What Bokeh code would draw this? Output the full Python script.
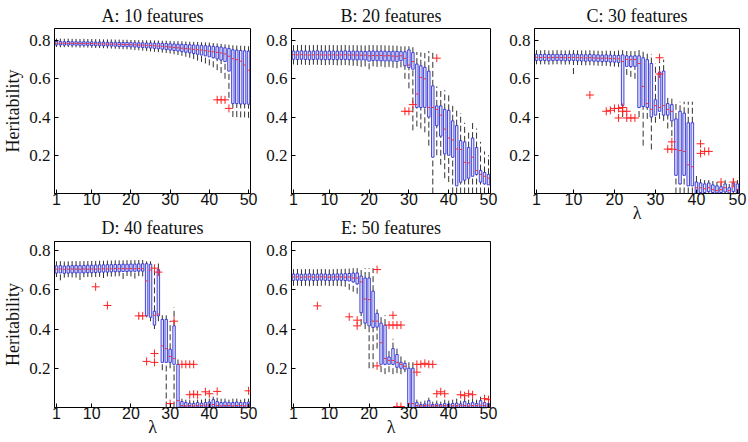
from bokeh.plotting import figure
from bokeh.layouts import row, column
from bokeh.models import ColumnDataSource, Range1d, FixedTicker
from bokeh.transform import dodge
from bokeh.embed import file_html
from bokeh.resources import INLINE

LAM = list(range(1, 51))
X_TICKS = [1, 10, 20, 30, 40, 50]
Y_TICKS = [0.2, 0.4, 0.6, 0.8]

# ---------------- Panel A: 10 features ----------------
a_med = [0.786, 0.786, 0.785, 0.786, 0.785, 0.785, 0.784, 0.785, 0.784, 0.784,
         0.783, 0.783, 0.782, 0.782, 0.781, 0.781, 0.780, 0.780, 0.779, 0.778,
         0.778, 0.777, 0.776, 0.775, 0.774, 0.773, 0.771, 0.770, 0.768, 0.766,
         0.764, 0.762, 0.760, 0.758, 0.756, 0.754, 0.752, 0.750, 0.747, 0.744,
         0.741, 0.738, 0.735, 0.730, 0.718, 0.705, 0.700, 0.692, 0.672, 0.645]
a_q1 = [0.777, 0.777, 0.776, 0.777, 0.776, 0.776, 0.775, 0.775, 0.775, 0.774,
        0.773, 0.773, 0.772, 0.772, 0.771, 0.770, 0.769, 0.769, 0.768, 0.767,
        0.766, 0.765, 0.764, 0.762, 0.761, 0.759, 0.757, 0.755, 0.753, 0.750,
        0.748, 0.745, 0.742, 0.739, 0.736, 0.732, 0.728, 0.724, 0.720, 0.715,
        0.710, 0.704, 0.698, 0.690, 0.640, 0.470, 0.470, 0.468, 0.468, 0.467]
a_q3 = [0.795, 0.795, 0.794, 0.795, 0.794, 0.794, 0.793, 0.794, 0.793, 0.793,
        0.792, 0.792, 0.792, 0.791, 0.791, 0.791, 0.790, 0.790, 0.790, 0.789,
        0.789, 0.788, 0.788, 0.787, 0.787, 0.786, 0.786, 0.785, 0.784, 0.783,
        0.782, 0.781, 0.780, 0.779, 0.778, 0.777, 0.776, 0.775, 0.773, 0.772,
        0.770, 0.768, 0.766, 0.762, 0.758, 0.752, 0.750, 0.748, 0.746, 0.745]
a_lo = [0.766, 0.765, 0.765, 0.766, 0.764, 0.765, 0.763, 0.764, 0.763, 0.762,
        0.761, 0.761, 0.760, 0.759, 0.758, 0.757, 0.756, 0.755, 0.754, 0.752,
        0.750, 0.749, 0.747, 0.745, 0.743, 0.741, 0.739, 0.737, 0.735, 0.732,
        0.728, 0.724, 0.720, 0.715, 0.710, 0.703, 0.695, 0.688, 0.680, 0.670,
        0.660, 0.645, 0.630, 0.600, 0.500, 0.400, 0.400, 0.398, 0.398, 0.396]
a_hi = [0.810, 0.810, 0.809, 0.810, 0.809, 0.809, 0.808, 0.809, 0.808, 0.808,
        0.807, 0.807, 0.806, 0.806, 0.806, 0.805, 0.805, 0.804, 0.804, 0.803,
        0.803, 0.802, 0.802, 0.801, 0.801, 0.800, 0.800, 0.799, 0.799, 0.798,
        0.797, 0.797, 0.796, 0.795, 0.794, 0.793, 0.792, 0.791, 0.790, 0.789,
        0.787, 0.785, 0.783, 0.780, 0.778, 0.775, 0.774, 0.773, 0.772, 0.770]
a_out_x = [42, 43, 44, 45]
a_out_y = [0.490, 0.490, 0.490, 0.445]

# ---------------- Panel B: 20 features ----------------
b_med = [0.726, 0.725, 0.726, 0.725, 0.724, 0.725, 0.726, 0.725, 0.724, 0.725,
         0.725, 0.724, 0.725, 0.726, 0.724, 0.725, 0.724, 0.723, 0.724, 0.720,
         0.722, 0.721, 0.722, 0.720, 0.721, 0.719, 0.718, 0.720, 0.707, 0.672,
         0.690, 0.520, 0.607, 0.600, 0.450, 0.450, 0.440, 0.410, 0.337, 0.290,
         0.280, 0.233, 0.230, 0.163, 0.160, 0.190, 0.120, 0.100, 0.090, 0.080]
b_q1 = [0.702, 0.701, 0.702, 0.701, 0.700, 0.701, 0.702, 0.700, 0.700, 0.701,
        0.700, 0.700, 0.701, 0.701, 0.700, 0.699, 0.699, 0.698, 0.698, 0.692,
        0.696, 0.695, 0.694, 0.693, 0.694, 0.692, 0.690, 0.695, 0.668, 0.659,
        0.650, 0.450, 0.450, 0.450, 0.400, 0.190, 0.355, 0.300, 0.207, 0.200,
        0.190, 0.040, 0.059, 0.070, 0.080, 0.090, 0.100, 0.060, 0.050, 0.045]
b_q3 = [0.745, 0.745, 0.746, 0.745, 0.744, 0.745, 0.746, 0.745, 0.744, 0.745,
        0.745, 0.744, 0.745, 0.746, 0.744, 0.745, 0.744, 0.744, 0.743, 0.745,
        0.745, 0.744, 0.745, 0.744, 0.743, 0.744, 0.743, 0.742, 0.741, 0.751,
        0.737, 0.677, 0.668, 0.660, 0.640, 0.563, 0.458, 0.458, 0.440, 0.435,
        0.380, 0.355, 0.276, 0.270, 0.240, 0.290, 0.240, 0.120, 0.110, 0.100]
b_lo = [0.675, 0.672, 0.674, 0.673, 0.672, 0.674, 0.673, 0.672, 0.671, 0.673,
        0.672, 0.670, 0.671, 0.672, 0.670, 0.668, 0.667, 0.662, 0.665, 0.650,
        0.665, 0.662, 0.664, 0.660, 0.662, 0.658, 0.655, 0.660, 0.600, 0.550,
        0.330, 0.350, 0.340, 0.320, 0.250, 0.000, 0.200, 0.150, 0.080, 0.060,
        0.000, 0.000, 0.000, 0.000, 0.000, 0.000, 0.000, 0.000, 0.000, 0.000]
b_hi = [0.780, 0.779, 0.781, 0.780, 0.778, 0.780, 0.781, 0.779, 0.778, 0.780,
        0.779, 0.778, 0.780, 0.781, 0.778, 0.779, 0.778, 0.777, 0.776, 0.778,
        0.777, 0.776, 0.777, 0.775, 0.776, 0.774, 0.773, 0.770, 0.770, 0.770,
        0.765, 0.740, 0.738, 0.735, 0.745, 0.740, 0.560, 0.550, 0.540, 0.520,
        0.470, 0.440, 0.420, 0.370, 0.330, 0.380, 0.340, 0.270, 0.220, 0.200]
b_out_x = [29, 30, 31, 37]
b_out_y = [0.430, 0.430, 0.465, 0.708]

# ---------------- Panel C: 30 features ----------------
c_med = [0.712, 0.711, 0.712, 0.710, 0.711, 0.712, 0.711, 0.710, 0.711, 0.712,
         0.711, 0.710, 0.709, 0.710, 0.709, 0.708, 0.707, 0.708, 0.706, 0.705,
         0.704, 0.690, 0.702, 0.700, 0.701, 0.680, 0.560, 0.470, 0.440, 0.460,
         0.450, 0.460, 0.440, 0.430, 0.230, 0.225, 0.220, 0.150, 0.140, 0.030,
         0.030, 0.025, 0.030, 0.020, 0.015, 0.020, 0.030, 0.015, 0.035, 0.020]
c_q1 = [0.696, 0.695, 0.696, 0.694, 0.695, 0.696, 0.695, 0.694, 0.695, 0.696,
        0.694, 0.693, 0.692, 0.693, 0.692, 0.691, 0.690, 0.690, 0.688, 0.687,
        0.686, 0.460, 0.665, 0.664, 0.665, 0.450, 0.455, 0.450, 0.400, 0.410,
        0.430, 0.410, 0.410, 0.380, 0.095, 0.050, 0.095, 0.040, 0.040, 0.000,
        0.005, 0.005, 0.010, 0.005, 0.003, 0.005, 0.008, 0.003, 0.010, 0.005]
c_q3 = [0.728, 0.727, 0.728, 0.727, 0.728, 0.728, 0.727, 0.727, 0.728, 0.729,
        0.727, 0.726, 0.726, 0.727, 0.726, 0.725, 0.724, 0.725, 0.724, 0.723,
        0.722, 0.725, 0.720, 0.719, 0.720, 0.720, 0.710, 0.700, 0.680, 0.490,
        0.635, 0.640, 0.470, 0.465, 0.390, 0.430, 0.420, 0.370, 0.370, 0.060,
        0.055, 0.050, 0.055, 0.045, 0.040, 0.035, 0.050, 0.030, 0.055, 0.050]
c_lo = [0.676, 0.675, 0.676, 0.674, 0.675, 0.676, 0.675, 0.674, 0.675, 0.625,
        0.672, 0.671, 0.670, 0.671, 0.670, 0.668, 0.667, 0.668, 0.665, 0.664,
        0.662, 0.400, 0.620, 0.610, 0.600, 0.400, 0.250, 0.390, 0.230, 0.370,
        0.390, 0.380, 0.340, 0.300, 0.000, 0.000, 0.000, 0.000, 0.000, 0.000,
        0.000, 0.000, 0.000, 0.000, 0.000, 0.000, 0.000, 0.000, 0.000, 0.000]
c_hi = [0.750, 0.749, 0.750, 0.748, 0.749, 0.750, 0.749, 0.748, 0.749, 0.750,
        0.749, 0.748, 0.748, 0.749, 0.748, 0.747, 0.746, 0.747, 0.746, 0.745,
        0.748, 0.750, 0.745, 0.745, 0.745, 0.750, 0.745, 0.740, 0.730, 0.680,
        0.690, 0.700, 0.500, 0.500, 0.480, 0.480, 0.480, 0.480, 0.480, 0.100,
        0.075, 0.070, 0.070, 0.065, 0.060, 0.055, 0.070, 0.050, 0.075, 0.070]
c_out_x = [14, 18, 19, 20, 21, 21, 22, 22, 23, 23, 24, 25,
           31, 31, 33, 34, 34, 41, 41, 42, 43, 46, 49]
c_out_y = [0.515, 0.430, 0.435, 0.445, 0.445, 0.395, 0.450, 0.430, 0.395, 0.430, 0.395, 0.395,
           0.710, 0.625, 0.232, 0.232, 0.270, 0.260, 0.210, 0.220, 0.220, 0.060, 0.060]

# ---------------- Panel D: 40 features ----------------
d_med = [0.705, 0.706, 0.704, 0.705, 0.706, 0.705, 0.704, 0.706, 0.705, 0.706,
         0.705, 0.706, 0.707, 0.706, 0.707, 0.708, 0.707, 0.708, 0.707, 0.708,
         0.707, 0.708, 0.707, 0.645, 0.700, 0.470, 0.476, 0.314, 0.300, 0.260,
         0.250, 0.035, 0.010, 0.008, 0.010, 0.008, 0.010, 0.010, 0.012, 0.010,
         0.015, 0.010, 0.008, 0.010, 0.010, 0.008, 0.010, 0.010, 0.008, 0.010]
d_q1 = [0.685, 0.686, 0.684, 0.685, 0.686, 0.686, 0.685, 0.686, 0.687, 0.687,
        0.688, 0.689, 0.690, 0.690, 0.691, 0.692, 0.692, 0.693, 0.693, 0.694,
        0.694, 0.695, 0.695, 0.467, 0.460, 0.420, 0.467, 0.230, 0.230, 0.230,
        0.220, 0.000, 0.002, 0.002, 0.003, 0.002, 0.003, 0.002, 0.003, 0.002,
        0.003, 0.002, 0.002, 0.003, 0.002, 0.002, 0.003, 0.002, 0.002, 0.003]
d_q3 = [0.722, 0.723, 0.721, 0.722, 0.723, 0.724, 0.723, 0.724, 0.725, 0.725,
        0.726, 0.727, 0.727, 0.728, 0.728, 0.729, 0.729, 0.730, 0.730, 0.731,
        0.731, 0.732, 0.732, 0.733, 0.730, 0.490, 0.703, 0.449, 0.449, 0.297,
        0.416, 0.220, 0.030, 0.025, 0.022, 0.020, 0.025, 0.022, 0.025, 0.028,
        0.040, 0.030, 0.025, 0.028, 0.025, 0.025, 0.028, 0.025, 0.025, 0.028]
d_lo = [0.665, 0.648, 0.662, 0.664, 0.663, 0.662, 0.650, 0.664, 0.665, 0.664,
        0.665, 0.666, 0.660, 0.668, 0.667, 0.668, 0.669, 0.655, 0.670, 0.668,
        0.657, 0.670, 0.668, 0.460, 0.440, 0.400, 0.440, 0.190, 0.000, 0.200,
        0.000, 0.000, 0.000, 0.000, 0.000, 0.000, 0.000, 0.000, 0.000, 0.000,
        0.000, 0.000, 0.000, 0.000, 0.000, 0.000, 0.000, 0.000, 0.000, 0.000]
d_hi = [0.745, 0.746, 0.744, 0.745, 0.746, 0.746, 0.745, 0.746, 0.746, 0.747,
        0.747, 0.748, 0.748, 0.749, 0.749, 0.750, 0.750, 0.750, 0.751, 0.751,
        0.751, 0.752, 0.752, 0.745, 0.745, 0.700, 0.740, 0.470, 0.470, 0.440,
        0.510, 0.245, 0.045, 0.040, 0.040, 0.035, 0.040, 0.040, 0.045, 0.045,
        0.055, 0.050, 0.045, 0.045, 0.040, 0.045, 0.045, 0.040, 0.045, 0.045]
d_out_x = [11, 14, 22, 23, 24, 26, 27, 26, 26, 31, 30,
           33, 34, 35, 36, 35, 36, 37, 39, 40, 42, 50]
d_out_y = [0.615, 0.520, 0.467, 0.467, 0.235, 0.710, 0.690, 0.275, 0.230, 0.440, 0.020,
           0.220, 0.220, 0.220, 0.220, 0.065, 0.068, 0.065, 0.080, 0.070, 0.082, 0.085]

# ---------------- Panel E: 50 features ----------------
e_med = [0.665, 0.666, 0.664, 0.665, 0.666, 0.664, 0.665, 0.666, 0.665, 0.664,
         0.665, 0.666, 0.665, 0.664, 0.665, 0.660, 0.660, 0.640, 0.553, 0.550,
         0.440, 0.440, 0.330, 0.250, 0.240, 0.240, 0.230, 0.220, 0.210, 0.020,
         0.020, 0.010, 0.008, 0.010, 0.012, 0.008, 0.010, 0.008, 0.010, 0.010,
         0.008, 0.010, 0.012, 0.010, 0.008, 0.010, 0.010, 0.012, 0.010, 0.008]
e_q1 = [0.648, 0.649, 0.647, 0.648, 0.649, 0.647, 0.648, 0.649, 0.648, 0.647,
        0.648, 0.649, 0.648, 0.647, 0.645, 0.640, 0.630, 0.483, 0.430, 0.416,
        0.408, 0.410, 0.220, 0.220, 0.220, 0.220, 0.205, 0.200, 0.195, 0.000,
        0.000, 0.002, 0.002, 0.003, 0.002, 0.002, 0.003, 0.002, 0.002, 0.003,
        0.002, 0.003, 0.002, 0.002, 0.003, 0.002, 0.002, 0.003, 0.002, 0.002]
e_q3 = [0.680, 0.681, 0.679, 0.680, 0.681, 0.679, 0.680, 0.681, 0.680, 0.679,
        0.680, 0.681, 0.681, 0.682, 0.683, 0.685, 0.686, 0.670, 0.660, 0.660,
        0.593, 0.480, 0.430, 0.420, 0.257, 0.300, 0.270, 0.230, 0.225, 0.200,
        0.200, 0.025, 0.015, 0.018, 0.035, 0.015, 0.018, 0.015, 0.020, 0.018,
        0.020, 0.022, 0.018, 0.030, 0.020, 0.025, 0.020, 0.035, 0.025, 0.020]
e_lo = [0.620, 0.621, 0.619, 0.620, 0.618, 0.620, 0.619, 0.620, 0.621, 0.619,
        0.620, 0.619, 0.618, 0.615, 0.600, 0.590, 0.580, 0.420, 0.400, 0.200,
        0.200, 0.300, 0.180, 0.170, 0.180, 0.170, 0.175, 0.170, 0.180, 0.000,
        0.000, 0.000, 0.000, 0.000, 0.000, 0.000, 0.000, 0.000, 0.000, 0.000,
        0.000, 0.000, 0.000, 0.000, 0.000, 0.000, 0.000, 0.000, 0.000, 0.000]
e_hi = [0.705, 0.706, 0.704, 0.705, 0.706, 0.704, 0.705, 0.706, 0.705, 0.704,
        0.705, 0.706, 0.706, 0.707, 0.708, 0.710, 0.710, 0.710, 0.710, 0.710,
        0.710, 0.500, 0.470, 0.470, 0.300, 0.350, 0.300, 0.260, 0.240, 0.240,
        0.240, 0.040, 0.030, 0.035, 0.050, 0.030, 0.035, 0.030, 0.040, 0.035,
        0.040, 0.045, 0.035, 0.055, 0.040, 0.045, 0.040, 0.055, 0.045, 0.040]
e_out_x = [7, 15, 17, 17, 22, 22, 25, 26, 26, 27, 28, 27, 28,
           32, 32, 33, 34, 35, 36, 37, 38, 39, 43, 44, 45, 46, 49, 50]
e_out_y = [0.518, 0.462, 0.445, 0.416, 0.703, 0.212, 0.420, 0.470, 0.420, 0.420, 0.420, 0.005, 0.005,
           0.180, 0.220, 0.220, 0.225, 0.220, 0.220, 0.070, 0.080, 0.070, 0.065, 0.060, 0.070, 0.065, 0.045, 0.040]

SERIF = "Liberation Serif"
SANS = "Liberation Sans"


def panel(title, med, q1, q3, lo, hi, ox, oy, ytop, width, height,
          mbl, mbr, mbt, mbb, title_standoff, ylabel=None, xlabel=None):
    p = figure(width=width, height=height, title=title,
               x_range=Range1d(0.5, 50.5), y_range=Range1d(0.0, ytop),
               output_backend="svg", toolbar_location=None,
               min_border_left=mbl, min_border_right=mbr,
               min_border_top=mbt, min_border_bottom=mbb)
    src = ColumnDataSource(dict(x=LAM, med=med, q1=q1, q3=q3, lo=lo, hi=hi))
    p.segment(x0="x", y0="lo", x1="x", y1="q1", source=src,
              line_color="#1a1a1a", line_dash="6 3", line_width=0.9)
    p.segment(x0="x", y0="q3", x1="x", y1="hi", source=src,
              line_color="#1a1a1a", line_dash="6 3", line_width=0.9)
    p.vbar(x="x", width=0.62, bottom="q1", top="q3", source=src,
           fill_color="#a8a8f0", fill_alpha=0.3,
           line_color="#3030d0", line_width=0.9)
    p.segment(x0=dodge("x", -0.31), y0="med", x1=dodge("x", 0.31), y1="med",
              source=src, line_color="#ff2a2a", line_width=1)
    p.scatter(ox, oy, marker="cross", size=8, line_color="#ff2020", line_width=1)

    p.title.text_font = SERIF
    p.title.text_font_size = "18px"
    p.title.text_font_style = "normal"
    p.title.text_color = "#111111"
    p.title.align = "center"
    p.title.standoff = title_standoff

    p.xgrid.visible = False
    p.ygrid.visible = False
    p.outline_line_color = "black"
    p.outline_line_width = 1
    p.background_fill_color = "white"
    p.border_fill_color = "white"

    p.xaxis.ticker = FixedTicker(ticks=X_TICKS)
    p.yaxis.ticker = FixedTicker(ticks=Y_TICKS)
    for ax in (p.xaxis, p.yaxis):
        ax.axis_line_color = "black"
        ax.major_tick_line_color = "black"
        ax.major_tick_in = 4
        ax.major_tick_out = 0
        ax.minor_tick_in = 0
        ax.minor_tick_out = 0
        ax.major_label_text_color = "#111111"
        ax.axis_label_text_font = SERIF
        ax.axis_label_text_font_size = "18px"
        ax.axis_label_text_font_style = "normal"
        ax.axis_label_text_color = "#111111"
    p.xaxis.major_label_standoff = -1
    p.xaxis.axis_label_standoff = -5
    p.yaxis.major_label_standoff = 4
    p.yaxis.axis_label_standoff = 3
    p.xaxis.major_label_text_font = SANS
    p.xaxis.major_label_text_font_size = "16px"
    p.yaxis.major_label_text_font = SERIF
    p.yaxis.major_label_text_font_size = "17px"
    if ylabel:
        p.yaxis.axis_label = ylabel
    if xlabel:
        p.xaxis.axis_label = xlabel
    return p


pA = panel("A: 10 features", a_med, a_q1, a_q3, a_lo, a_hi, a_out_x, a_out_y, 0.863,
           262, 211, 51, 12, 28, 18, 6, ylabel="Heritability")
pB = panel("B: 20 features", b_med, b_q1, b_q3, b_lo, b_hi, b_out_x, b_out_y, 0.863,
           243, 211, 29, 15, 28, 18, 6)
pC = panel("C: 30 features", c_med, c_q1, c_q3, c_lo, c_hi, c_out_x, c_out_y, 0.863,
           243, 229, 29, 9, 28, 36, 6, xlabel="λ")
pD = panel("D: 40 features", d_med, d_q1, d_q3, d_lo, d_hi, d_out_x, d_out_y, 0.846,
           262, 231, 51, 12, 30, 35, 8, ylabel="Heritability", xlabel="λ")
pE = panel("E: 50 features", e_med, e_q1, e_q3, e_lo, e_hi, e_out_x, e_out_y, 0.846,
           243, 231, 29, 15, 30, 35, 8, xlabel="λ")

layout = row(column(pA, pD), column(pB, pE), pC)
open("out.html", "w").write(file_html(layout, INLINE))
